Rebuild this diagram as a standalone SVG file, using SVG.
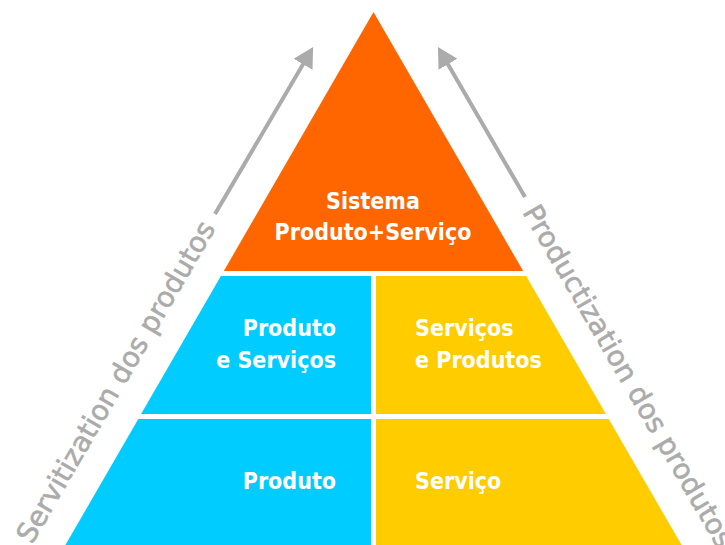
<svg xmlns="http://www.w3.org/2000/svg" width="725" height="545" viewBox="0 0 725 545">
  <style>
    .lbl { font-family: "DejaVu Sans Condensed", "DejaVu Sans", sans-serif; font-stretch: condensed; font-weight: bold; font-size: 23px; fill: #FFFFFF; }
    .side { font-family: "DejaVu Sans", sans-serif; font-size: 28px; fill: #ABABAB; stroke: #ABABAB; stroke-width: 0.6; }
    .flow { stroke: #ABABAB; stroke-width: 4; fill: none; }
  </style>
  <defs>
    <marker id="head" viewBox="0 0 20 22" refX="1" refY="11" markerWidth="20" markerHeight="22" markerUnits="userSpaceOnUse" orient="auto">
      <path d="M0,0 L20,11 L0,22 z" fill="#ABABAB"/>
    </marker>
  </defs>
  <rect width="725" height="545" fill="#FFFFFF"/>

  <!-- top tier -->
  <g id="sistema">
    <polygon points="373.5,12 523.2,271 223.8,271" fill="#FF6600"/>
    <text class="lbl" x="373" y="209" text-anchor="middle">Sistema</text>
    <text class="lbl" x="373" y="240" text-anchor="middle">Produto+Serviço</text>
  </g>

  <!-- middle tier -->
  <g id="produto-servicos">
    <polygon points="220.9,276 371,276 371,414 141.1,414" fill="#00CCFF"/>
    <text class="lbl" x="336" y="336" text-anchor="end">Produto</text>
    <text class="lbl" x="336" y="368" text-anchor="end">e Serviços</text>
  </g>
  <g id="servicos-produtos">
    <polygon points="376,276 526.1,276 605.9,414 376,414" fill="#FFCC00"/>
    <text class="lbl" x="415" y="336">Serviços</text>
    <text class="lbl" x="415" y="368">e Produtos</text>
  </g>

  <!-- base tier -->
  <g id="produto">
    <polygon points="138.3,419 371,419 371,550 62.5,550" fill="#00CCFF"/>
    <text class="lbl" x="336" y="489" text-anchor="end">Produto</text>
  </g>
  <g id="servico">
    <polygon points="376,419 608.7,419 684.5,550 376,550" fill="#FFCC00"/>
    <text class="lbl" x="415" y="489">Serviço</text>
  </g>

  <!-- flow arrows along the sides -->
  <g id="connectors">
    <line class="flow" x1="215" y1="214" x2="303.5" y2="63.4" marker-end="url(#head)"/>
    <line class="flow" x1="525" y1="197" x2="447.5" y2="63.4" marker-end="url(#head)"/>
  </g>

  <g id="side-labels">
    <text class="side" transform="translate(32,545) rotate(-59.84)">Servitization dos produtos</text>
    <text class="side" transform="translate(522,212) rotate(59.84)">Productization dos produtos</text>
  </g>
</svg>
